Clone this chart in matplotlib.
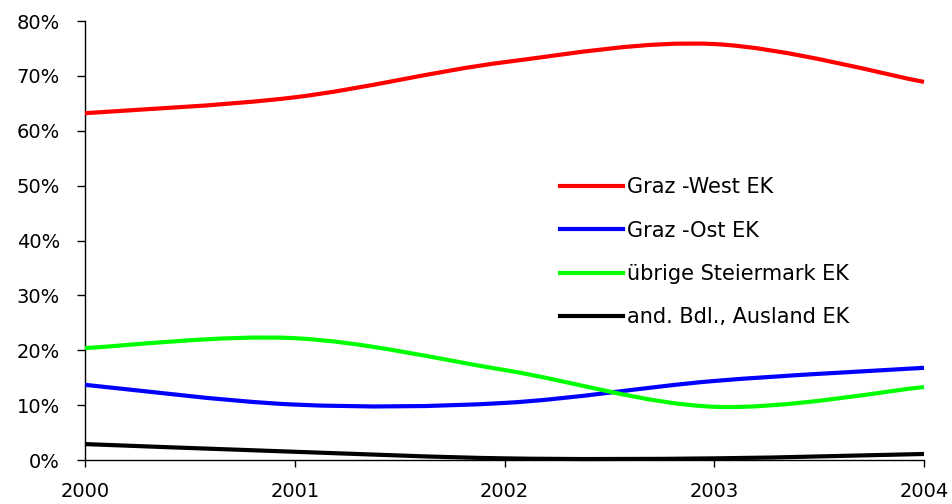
import numpy as np
import matplotlib
matplotlib.use("Agg")
import matplotlib.pyplot as plt
from matplotlib.path import Path
from matplotlib.patches import PathPatch
from matplotlib.lines import Line2D
from matplotlib.ticker import PercentFormatter

# Data (shares in %)
years = [2000, 2001, 2002, 2003, 2004]
graz_west = [63.2, 66.1, 72.5, 75.8, 68.9]
graz_ost = [13.7, 10.1, 10.4, 14.4, 16.8]
uebrige_stmk = [20.4, 22.2, 16.4, 9.7, 13.3]
ausland = [2.9, 1.5, 0.3, 0.3, 1.1]

labels = ["Graz -West EK", "Graz -Ost EK", "übrige Steiermark EK", "and. Bdl., Ausland EK"]
colors = ["#ff0000", "#0000ff", "#00ff00", "#000000"]


def smooth_path(xs, ys):
    # Excel-style smoothed line: cubic Bezier through the points
    p = np.column_stack([xs, ys]).astype(float)
    ext = np.vstack([p[0], p, p[-1]])
    verts = [p[0]]
    codes = [Path.MOVETO]
    for i in range(len(p) - 1):
        p0, p1, p2, p3 = ext[i], ext[i + 1], ext[i + 2], ext[i + 3]
        c1 = p1 + (p2 - p0) / 6.0
        c2 = p2 - (p3 - p1) / 6.0
        verts += [c1, c2, p2]
        codes += [Path.CURVE4] * 3
    return Path(verts, codes)


fig = plt.figure(figsize=(9.52, 5.04), dpi=100)
ax = fig.add_axes([0.0893, 0.0873, 0.8813, 0.871])

series = [graz_west, graz_ost, uebrige_stmk, ausland]
for vals, c in zip(series, colors):
    patch = PathPatch(smooth_path(years, vals), facecolor="none", edgecolor=c,
                      lw=3, capstyle="butt", clip_on=False, zorder=3)
    ax.add_patch(patch)

ax.set_xlim(2000, 2004)
ax.set_ylim(0, 80)
ax.set_xticks(years)
ax.set_yticks(np.arange(0, 81, 10))
ax.yaxis.set_major_formatter(PercentFormatter(decimals=0))

for s in ["top", "right"]:
    ax.spines[s].set_visible(False)
for s in ["left", "bottom"]:
    ax.spines[s].set_linewidth(1)

ax.tick_params(axis="y", direction="out", length=6, width=1, pad=12, labelsize=14)
ax.tick_params(axis="x", direction="out", length=5, width=1, pad=11, labelsize=14)

handles = [Line2D([0], [0], color=c, lw=3) for c in colors]
ax.legend(handles, labels, loc="upper left", bbox_to_anchor=(0.5566, 0.663),
          frameon=False, fontsize=15, handlelength=3.0, handletextpad=0.2,
          labelspacing=1.12, borderaxespad=0)

fig.savefig("out.png", dpi=100)
